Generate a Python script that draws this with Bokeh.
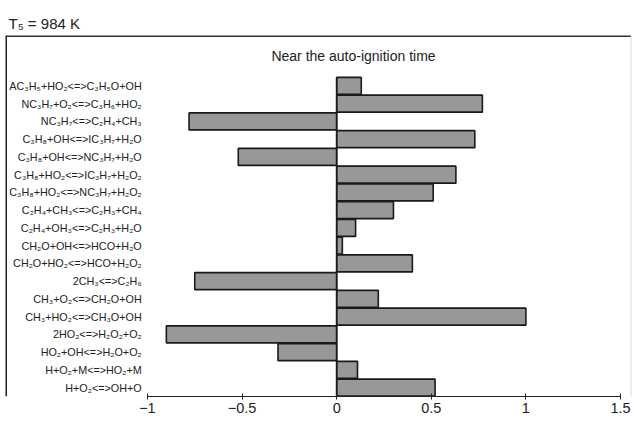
from bokeh.plotting import figure
from bokeh.models import Range1d, FixedTicker, ColumnDataSource, Span
from bokeh.core.properties import value
from bokeh.embed import file_html
from bokeh.resources import INLINE

# Reactions, top to bottom
reactions = [
    "AC₃H₅+HO₂<=>C₃H₅O+OH",
    "NC₃H₇+O₂<=>C₃H₆+HO₂",
    "NC₃H₇<=>C₂H₄+CH₃",
    "C₃H₈+OH<=>IC₃H₇+H₂O",
    "C₃H₈+OH<=>NC₃H₇+H₂O",
    "C₃H₈+HO₂<=>IC₃H₇+H₂O₂",
    "C₃H₈+HO₂<=>NC₃H₇+H₂O₂",
    "C₂H₄+CH₃<=>C₂H₃+CH₄",
    "C₂H₄+OH₃<=>C₂H₃+H₂O",
    "CH₂O+OH<=>HCO+H₂O",
    "CH₂O+HO₂<=>HCO+H₂O₂",
    "2CH₃<=>C₂H₆",
    "CH₃+O₂<=>CH₂O+OH",
    "CH₃+HO₂<=>CH₃O+OH",
    "2HO₂<=>H₂O₂+O₂",
    "HO₂+OH<=>H₂O+O₂",
    "H+O₂+M<=>HO₂+M",
    "H+O₂<=>OH+O",
]
sensitivity = [0.13, 0.77, -0.78, 0.73, -0.52, 0.63, 0.51, 0.30, 0.10, 0.03,
               0.40, -0.75, 0.22, 1.00, -0.90, -0.31, 0.11, 0.52]
x_ticks = [-1, -0.5, 0, 0.5, 1, 1.5]
tick_labels = {-1: "−1", -0.5: "−0.5", 0: "0", 0.5: "0.5", 1: "1", 1.5: "1.5"}
title_text = "T₅ = 984 K"
inner_title = "Near the auto-ignition time"

n = len(reactions)
ypos = [n - 1 - i for i in range(n)]

src = ColumnDataSource(dict(y=ypos, right=sensitivity, left=[0] * n, label=reactions,
                            lx=[-1.03] * n))

p = figure(width=634, height=423, output_backend="svg", toolbar_location=None,
           x_range=Range1d(-1.75, 1.558), y_range=Range1d(-0.5, 19.84),
           min_border_left=5, min_border_right=3, min_border_top=35, min_border_bottom=27,
           title=title_text)
p.title.text_font = "Liberation Sans"
p.title.text_font_size = "15px"
p.title.text_font_style = "normal"
p.title.text_color = "#222222"
p.title.align = "left"
p.title.offset = 3
p.title.standoff = 8

p.grid.visible = False
p.yaxis.visible = False
p.outline_line_color = None
p.background_fill_color = "white"
p.border_fill_color = "white"

# frame box lines
p.add_layout(Span(location=-1.75, dimension="height", line_color="#222222", line_width=3))
p.add_layout(Span(location=19.84, dimension="width", line_color="#333333", line_width=3))
p.add_layout(Span(location=1.558, dimension="height", line_color="#dddddd", line_width=2))

p.hbar(y="y", left="left", right="right", height=0.96, source=src,
       fill_color="#989898", line_color="#1a1a1a", line_width=1.6)

p.segment(x0=[0], y0=[-0.5], x1=[0], y1=[n - 0.52], line_color="#1a1a1a", line_width=1.5)

p.text(x="lx", y="y", text="label", source=src, text_align="right",
       text_baseline="middle", text_font=value("Liberation Sans"),
       text_font_size="10.8px", text_color="#222222")

p.text(x=[0.089], y=[18.66], text=[inner_title], text_align="center",
       text_baseline="middle", text_font=value("Liberation Sans"),
       text_font_size="14px", text_color="#222222")

ax = p.xaxis[0]
ax.bounds = (-1, 1.5)
ax.ticker = FixedTicker(ticks=x_ticks)
ax.major_label_overrides = tick_labels
ax.major_label_text_font = "Liberation Sans"
ax.major_label_text_font_size = "14.5px"
ax.major_label_text_color = "#222222"
ax.major_tick_in = 3
ax.major_tick_out = 3
ax.minor_tick_line_color = None
ax.axis_line_color = "#222222"
ax.axis_line_width = 1.2
ax.major_tick_line_color = "#222222"
ax.major_label_standoff = 3

open("out.html", "w").write(file_html(p, INLINE))
